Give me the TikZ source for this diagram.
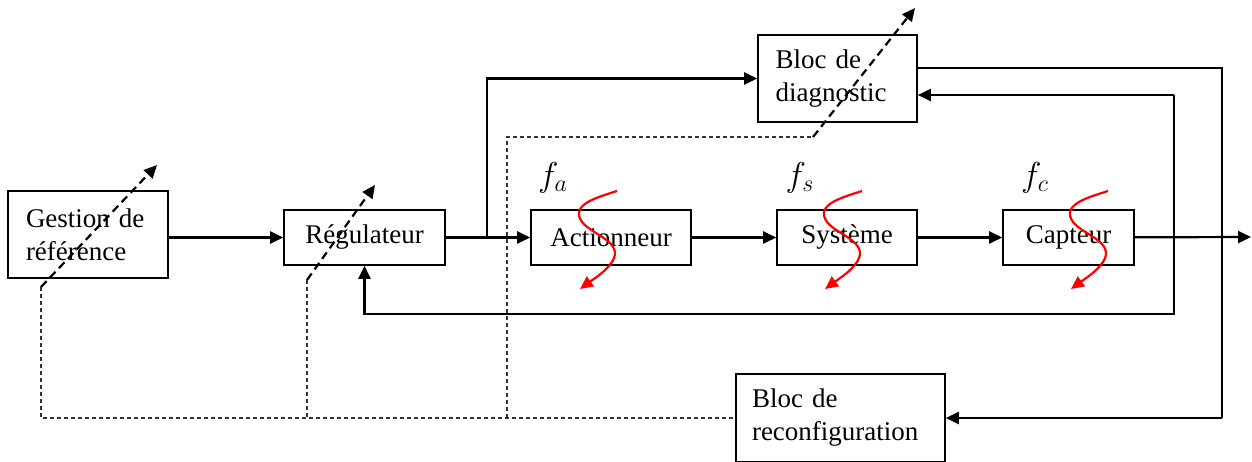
\documentclass[tikz,border=0pt]{standalone}
\usepackage{fontspec}
\setmainfont{Liberation Serif}
\usetikzlibrary{arrows.meta}

\begin{document}
\begin{tikzpicture}[x=0.5pt,y=-0.5pt,
  >={Triangle[length=6.5pt,width=6pt]},
  every node/.style={font=\fontsize{13.5}{16.5}\selectfont},
  bloc/.style={draw,line width=0.8pt,inner sep=0pt},
  label defaut/.style={font=\fontsize{17}{19}\selectfont},
  sig/.style={line width=1.1pt,->},
  fin/.style={line width=0.6pt},
  pointille/.style={line width=0.6pt,dash pattern=on 2pt off 1.5pt,black!80},
  tirets/.style={line width=1.1pt,dash pattern=on 4pt off 2.5pt,->},
  defaut/.style={red,line width=1.1pt,-{Triangle[length=6.5pt,width=6pt]}}]
  \useasboundingbox (0,0) rectangle (1252,461);
  % blocs
  \node (gest) at (88,234.5) [bloc,minimum width=80pt,minimum height=43.5pt,text width=62pt,align=left]{Gestion de\\référence};
  \node (reg) at (364.5,237.5) [bloc,minimum width=80.5pt,minimum height=27.5pt]{Régulateur};
  \node (act) at (611,237.5) [bloc,minimum width=80pt,minimum height=27.5pt]{Actionneur};
  \node (sys) at (847,237.5) [bloc,minimum width=70pt,minimum height=27.5pt]{Système};
  \node (cap) at (1068.5,237.5) [bloc,minimum width=65.5pt,minimum height=27.5pt]{Capteur};
  \node (diag) at (837.5,78.5) [bloc,minimum width=79.5pt,minimum height=43.5pt,text width=62pt,align=left]{Bloc de\\diagnostic};
  \node (reconf) at (840.5,418) [bloc,minimum width=104.5pt,minimum height=44pt,text width=88.5pt,align=left]{Bloc de\\reconfiguration};
  % defauts
  \node (fa) at (553,178) [label defaut]{$f_a$};
  \node (fs) at (800,178) [label defaut]{$f_s$};
  \node (fc) at (1035,178) [label defaut]{$f_c$};
  \foreach \dx in {0,245,491}
  {
    \draw[defaut] (617+\dx,191) .. controls (595+\dx,198) and (570+\dx,205) .. (582+\dx,222)
      .. controls (592+\dx,235) and (625+\dx,242) .. (612+\dx,262)
      .. controls (605+\dx,272) and (595+\dx,278) .. (580+\dx,289);
  }
  % points de branchement
  \coordinate (br) at (487,237);
  \coordinate (fb) at (1174,95);
  \coordinate (rc) at (1222,418);
  \coordinate (out) at (1251,237);
  \coordinate (g0) at (41,287);
  \coordinate (g1) at (157,165);
  \coordinate (r0) at (307,280);
  \coordinate (r1) at (375,185);
  \coordinate (d0) at (813,137);
  \coordinate (d1) at (915,8);
  % chaine directe
  \draw[sig] (gest.east |- reg) -- (reg);
  \draw[sig] (reg) -- (act);
  \draw[sig] (act) -- (sys);
  \draw[sig] (sys) -- (cap);
  \draw[sig] (cap) -- (out);
  \draw[sig] (br) |- (diag.west);
  % retours
  \draw[sig] (fb) -- (diag.east |- fb);
  \draw[sig] (fb) |- (reg.south |- 0,314) -- (reg.south);
  \draw[fin] (diag.east |- 0,68) -| (rc);
  \draw[sig] (rc) -- (reconf);
  % reconfiguration
  \draw[tirets] (g0) -- (g1);
  \draw[tirets] (r0) -- (r1);
  \draw[tirets] (d0) -- (d1);
  \draw[pointille] (g0) |- (reconf);
  \draw[pointille] (r0) -- (r0 |- reconf);
  \draw[pointille] (507,418) |- (d0);
\end{tikzpicture}
\end{document}
